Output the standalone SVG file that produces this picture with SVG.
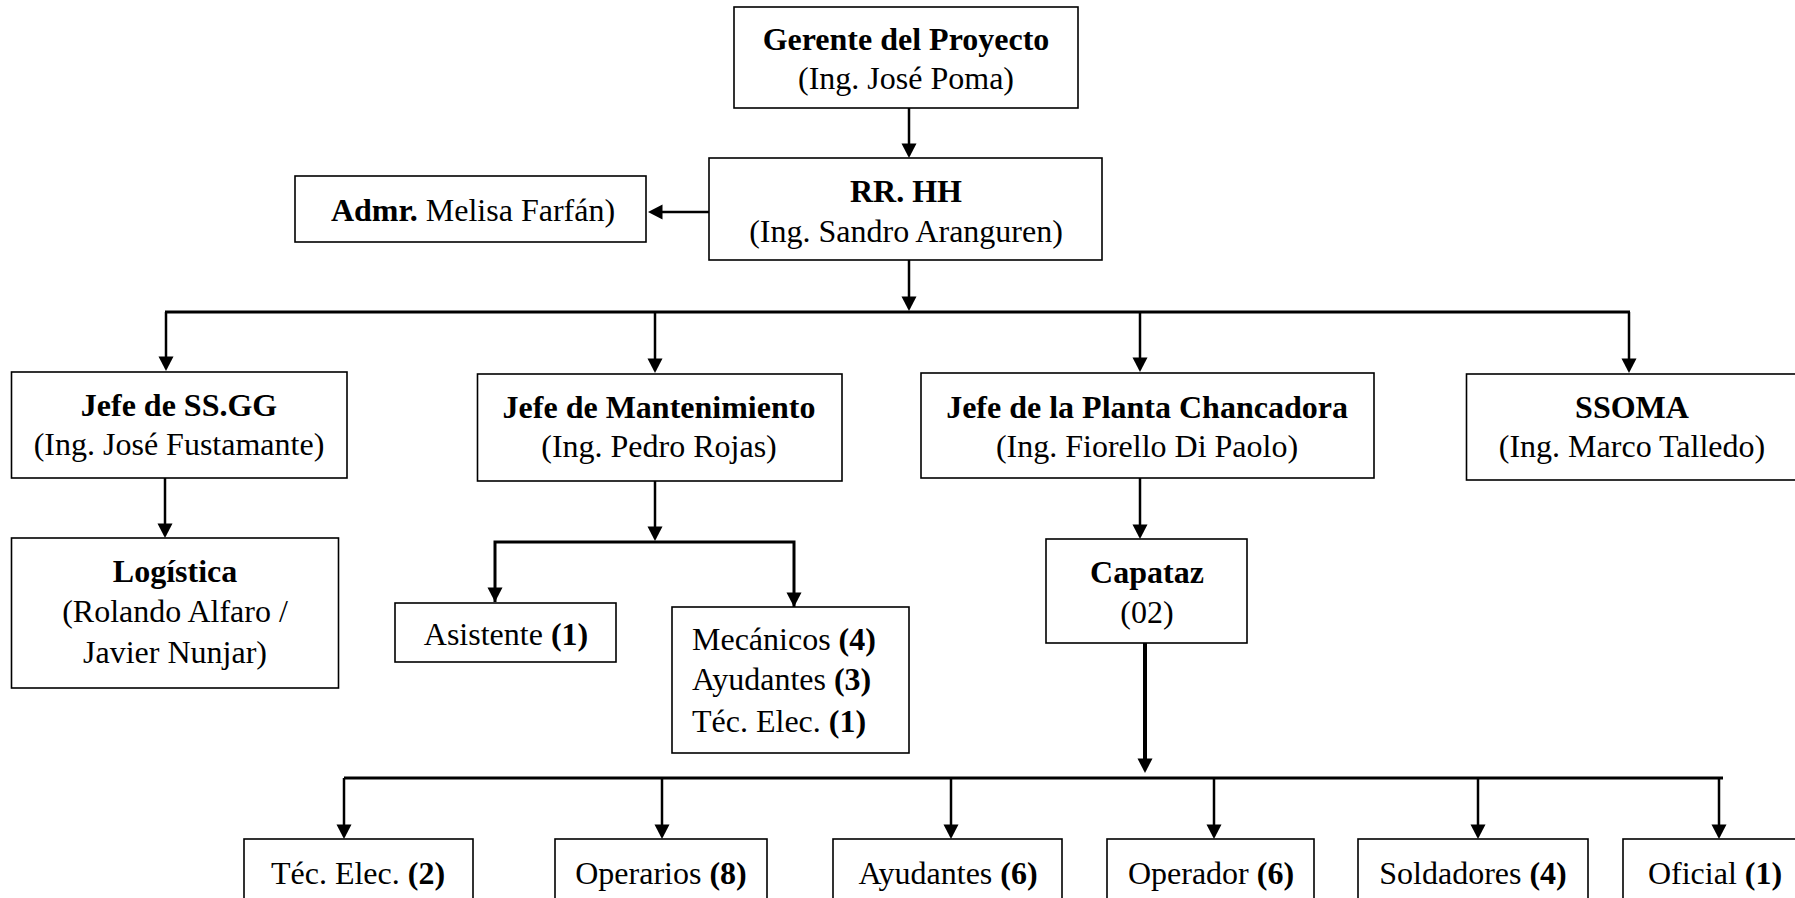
<svg xmlns="http://www.w3.org/2000/svg" xmlns:xlink="http://www.w3.org/1999/xlink" width="1795" height="898" viewBox="0 0 1795 898">
  <style>
    .box { fill: #fff; stroke: #000; stroke-width: 1.6; }
    .t { font-family: "Liberation Serif", "Times New Roman", serif; font-size: 32px; fill: #000; }
    .c { text-anchor: middle; }
    .b { font-weight: bold; }
    .ln { fill: none; stroke: #000; stroke-width: 2.5; }
    .bus { fill: none; stroke: #000; stroke-width: 3; }
    .heavy { fill: none; stroke: #000; stroke-width: 4; }
  </style>
  <defs>
    <!-- downward arrowhead, tip at the origin -->
    <path id="ah" d="M-7.5,-14.5 L7.5,-14.5 L0,0 Z" fill="#000"/>
  </defs>
  <rect width="1795" height="898" fill="#fff"/>

  <g id="connectors">
    <!-- Gerente to RR.HH -->
    <line class="ln" x1="909" y1="108" x2="909" y2="150"/>
    <use xlink:href="#ah" x="909" y="158"/>
    <!-- RR.HH to Admr. -->
    <line class="ln" x1="709" y1="212" x2="656" y2="212"/>
    <use xlink:href="#ah" transform="translate(648,212) rotate(90)"/>
    <!-- RR.HH to main bus -->
    <line class="ln" x1="909" y1="260" x2="909" y2="304"/>
    <use xlink:href="#ah" x="909" y="311"/>
    <line class="bus" x1="165" y1="312" x2="1630" y2="312"/>
    <!-- bus drops to the four heads -->
    <line class="ln" x1="166" y1="312" x2="166" y2="362"/>
    <use xlink:href="#ah" x="166" y="371"/>
    <line class="ln" x1="655" y1="312" x2="655" y2="364"/>
    <use xlink:href="#ah" x="655" y="373"/>
    <line class="ln" x1="1140" y1="312" x2="1140" y2="363"/>
    <use xlink:href="#ah" x="1140" y="372"/>
    <line class="ln" x1="1629" y1="312" x2="1629" y2="364"/>
    <use xlink:href="#ah" x="1629" y="373"/>
    <!-- SS.GG to Logistica -->
    <line class="ln" x1="165" y1="478" x2="165" y2="530"/>
    <use xlink:href="#ah" x="165" y="538"/>
    <!-- Mantenimiento branch -->
    <line class="ln" x1="655" y1="481" x2="655" y2="533"/>
    <use xlink:href="#ah" x="655" y="541"/>
    <polyline class="bus" points="495,602 495,542 794,542 794,607"/>
    <line class="ln" x1="495" y1="590" x2="495" y2="594"/>
    <use xlink:href="#ah" x="495" y="602"/>
    <use xlink:href="#ah" x="794" y="607"/>
    <!-- Planta to Capataz -->
    <line class="ln" x1="1140" y1="478" x2="1140" y2="531"/>
    <use xlink:href="#ah" x="1140" y="539"/>
    <!-- Capataz to crew bus -->
    <line class="heavy" x1="1145" y1="643" x2="1145" y2="764"/>
    <use xlink:href="#ah" x="1145" y="773"/>
    <line class="bus" x1="344" y1="778" x2="1723" y2="778"/>
    <line class="ln" x1="344" y1="778" x2="344" y2="831"/>
    <use xlink:href="#ah" x="344" y="839"/>
    <line class="ln" x1="662" y1="778" x2="662" y2="831"/>
    <use xlink:href="#ah" x="662" y="839"/>
    <line class="ln" x1="951" y1="778" x2="951" y2="831"/>
    <use xlink:href="#ah" x="951" y="839"/>
    <line class="ln" x1="1214" y1="778" x2="1214" y2="831"/>
    <use xlink:href="#ah" x="1214" y="839"/>
    <line class="ln" x1="1478" y1="778" x2="1478" y2="831"/>
    <use xlink:href="#ah" x="1478" y="839"/>
    <line class="ln" x1="1719" y1="778" x2="1719" y2="831"/>
    <use xlink:href="#ah" x="1719" y="839"/>
  </g>

  <g id="gerente">
    <rect class="box" x="734" y="7" width="344" height="101"/>
    <text class="t c b" x="906" y="50">Gerente del Proyecto</text>
    <text class="t c" x="906" y="89">(Ing. José Poma)</text>
  </g>

  <g id="rrhh">
    <rect class="box" x="709" y="158" width="393" height="102"/>
    <text class="t c b" x="906" y="202">RR. HH</text>
    <text class="t c" x="906" y="242">(Ing. Sandro Aranguren)</text>
  </g>

  <g id="admr">
    <rect class="box" x="295" y="176" width="351" height="66"/>
    <text class="t c" x="473" y="221"><tspan class="b">Admr.</tspan> Melisa Farfán)</text>
  </g>

  <g id="jefe-ssgg">
    <rect class="box" x="11.5" y="372" width="335.5" height="106"/>
    <text class="t c b" x="179" y="416">Jefe de SS.GG</text>
    <text class="t c" x="179" y="455">(Ing. José Fustamante)</text>
  </g>

  <g id="jefe-mantenimiento">
    <rect class="box" x="477.5" y="374" width="364.5" height="107"/>
    <text class="t c b" x="659" y="418">Jefe de Mantenimiento</text>
    <text class="t c" x="659" y="457">(Ing. Pedro Rojas)</text>
  </g>

  <g id="jefe-planta">
    <rect class="box" x="921" y="373" width="453" height="105"/>
    <text class="t c b" x="1147" y="418">Jefe de la Planta Chancadora</text>
    <text class="t c" x="1147" y="457">(Ing. Fiorello Di Paolo)</text>
  </g>

  <g id="ssoma">
    <rect class="box" x="1466.5" y="374" width="340" height="106"/>
    <text class="t c b" x="1632" y="418">SSOMA</text>
    <text class="t c" x="1632" y="457">(Ing. Marco Talledo)</text>
  </g>

  <g id="logistica">
    <rect class="box" x="11.5" y="538" width="327" height="150"/>
    <text class="t c b" x="175" y="582">Logística</text>
    <text class="t c" x="175" y="622">(Rolando Alfaro /</text>
    <text class="t c" x="175" y="663">Javier Nunjar)</text>
  </g>

  <g id="asistente">
    <rect class="box" x="395" y="603" width="221" height="59"/>
    <text class="t c" x="506" y="645">Asistente <tspan class="b">(1)</tspan></text>
  </g>

  <g id="mecanicos">
    <rect class="box" x="672" y="607" width="237" height="146"/>
    <text class="t" x="692" y="650">Mecánicos <tspan class="b">(4)</tspan></text>
    <text class="t" x="692" y="690">Ayudantes <tspan class="b">(3)</tspan></text>
    <text class="t" x="692" y="732">Téc. Elec. <tspan class="b">(1)</tspan></text>
  </g>

  <g id="capataz">
    <rect class="box" x="1046" y="539" width="201" height="104"/>
    <text class="t c b" x="1147" y="583">Capataz</text>
    <text class="t c" x="1147" y="623">(02)</text>
  </g>

  <g id="tec-elec">
    <rect class="box" x="244" y="839" width="229" height="80"/>
    <text class="t c" x="358" y="884">Téc. Elec. <tspan class="b">(2)</tspan></text>
  </g>

  <g id="operarios">
    <rect class="box" x="555" y="839" width="212" height="80"/>
    <text class="t c" x="661" y="884">Operarios <tspan class="b">(8)</tspan></text>
  </g>

  <g id="ayudantes">
    <rect class="box" x="833" y="839" width="229" height="80"/>
    <text class="t c" x="948" y="884">Ayudantes <tspan class="b">(6)</tspan></text>
  </g>

  <g id="operador">
    <rect class="box" x="1107" y="839" width="207" height="80"/>
    <text class="t c" x="1211" y="884">Operador <tspan class="b">(6)</tspan></text>
  </g>

  <g id="soldadores">
    <rect class="box" x="1358" y="839" width="230" height="80"/>
    <text class="t c" x="1473" y="884">Soldadores <tspan class="b">(4)</tspan></text>
  </g>

  <g id="oficial">
    <rect class="box" x="1623" y="839" width="190" height="80"/>
    <text class="t c" x="1715" y="884">Oficial <tspan class="b">(1)</tspan></text>
  </g>
</svg>
